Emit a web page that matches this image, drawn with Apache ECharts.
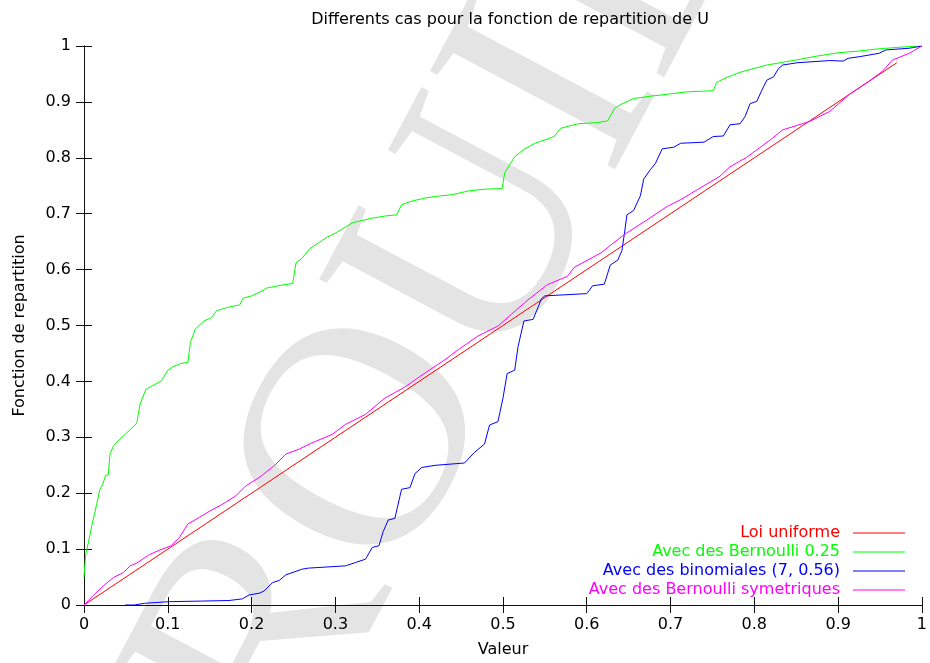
<!DOCTYPE html>
<html>
<head>
<meta charset="utf-8">
<script src="https://cdn.jsdelivr.net/npm/echarts@6/dist/echarts.min.js"></script>
<style>html,body{margin:0;padding:0;background:#fff}#c{width:930px;height:663px}</style>
</head>
<body>
<div id="c"></div>
<script>
const titleText = "Differents cas pour la fonction de repartition de U";
const xName = "Valeur";
const yName = "Fonction de repartition";
const seriesNames = ["Loi uniforme", "Avec des Bernoulli 0.25", "Avec des binomiales (7, 0.56)", "Avec des Bernoulli symetriques"];
const seriesColors = ["#ff0000", "#00ff00", "#0000ff", "#ff00ff"];
const watermarkText = "BROUILLON";

const uniformX = [0, 0.97];
const uniformY = [0, 0.97];

const bern25X = [0,0.002,0.005,0.009,0.013,0.019,0.022,0.026,0.029,0.031,0.035,0.041,0.051,0.061,0.063,0.067,0.074,0.085,0.092,0.1,0.106,0.115,0.124,0.127,0.133,0.143,0.152,0.158,0.17,0.186,0.19,0.2,0.21,0.218,0.235,0.249,0.253,0.26,0.269,0.28,0.29,0.301,0.313,0.321,0.344,0.36,0.373,0.379,0.39,0.407,0.42,0.439,0.46,0.48,0.499,0.502,0.514,0.525,0.538,0.55,0.561,0.569,0.59,0.613,0.625,0.633,0.64,0.656,0.675,0.692,0.72,0.751,0.755,0.766,0.783,0.8,0.815,0.85,0.875,0.901,0.925,0.949,0.975,1];
const bern25Y = [0.05,0.09,0.11,0.14,0.166,0.207,0.215,0.232,0.233,0.27,0.284,0.294,0.308,0.322,0.326,0.36,0.386,0.395,0.4,0.42,0.426,0.432,0.434,0.47,0.494,0.508,0.514,0.526,0.532,0.537,0.549,0.553,0.56,0.567,0.572,0.575,0.612,0.62,0.637,0.648,0.658,0.666,0.677,0.684,0.692,0.696,0.698,0.716,0.722,0.728,0.731,0.734,0.741,0.744,0.745,0.773,0.802,0.815,0.826,0.832,0.838,0.853,0.861,0.863,0.866,0.888,0.895,0.906,0.91,0.913,0.918,0.92,0.935,0.943,0.953,0.96,0.966,0.975,0.982,0.988,0.991,0.995,0.998,1];

const binomX = [0.049,0.06,0.072,0.102,0.14,0.173,0.189,0.197,0.209,0.215,0.225,0.233,0.241,0.26,0.268,0.29,0.312,0.324,0.336,0.344,0.352,0.357,0.363,0.371,0.379,0.389,0.395,0.403,0.42,0.454,0.466,0.478,0.484,0.494,0.5,0.505,0.514,0.518,0.525,0.536,0.546,0.55,0.6,0.607,0.621,0.628,0.637,0.642,0.645,0.648,0.656,0.664,0.668,0.676,0.682,0.69,0.704,0.712,0.74,0.751,0.763,0.771,0.783,0.789,0.795,0.803,0.809,0.815,0.823,0.829,0.834,0.851,0.89,0.906,0.912,0.926,0.949,0.957,0.985,1];
const binomY = [0,0,0.003,0.006,0.007,0.008,0.011,0.018,0.021,0.025,0.04,0.044,0.054,0.064,0.066,0.068,0.07,0.076,0.082,0.103,0.106,0.131,0.152,0.155,0.207,0.21,0.235,0.246,0.25,0.254,0.273,0.288,0.322,0.328,0.37,0.414,0.42,0.462,0.508,0.511,0.548,0.553,0.557,0.571,0.574,0.608,0.617,0.634,0.665,0.698,0.706,0.732,0.762,0.779,0.79,0.816,0.819,0.826,0.828,0.838,0.839,0.859,0.861,0.874,0.897,0.901,0.921,0.939,0.945,0.96,0.966,0.97,0.974,0.973,0.978,0.981,0.987,0.993,0.996,1];

const symX = [0,0.011,0.023,0.035,0.047,0.055,0.063,0.078,0.09,0.104,0.114,0.124,0.138,0.15,0.165,0.181,0.193,0.209,0.227,0.241,0.257,0.272,0.296,0.312,0.336,0.359,0.383,0.407,0.431,0.447,0.47,0.494,0.51,0.53,0.553,0.577,0.585,0.617,0.645,0.672,0.696,0.712,0.732,0.759,0.771,0.791,0.819,0.834,0.866,0.89,0.914,0.937,0.953,0.965,0.985,1];
const symY = [0,0.017,0.034,0.049,0.058,0.07,0.075,0.09,0.098,0.106,0.121,0.145,0.157,0.168,0.18,0.195,0.213,0.228,0.249,0.27,0.279,0.29,0.305,0.323,0.341,0.37,0.39,0.415,0.439,0.457,0.481,0.499,0.52,0.546,0.573,0.588,0.604,0.63,0.663,0.689,0.713,0.725,0.743,0.767,0.784,0.801,0.832,0.85,0.865,0.883,0.914,0.937,0.955,0.975,0.987,1];

const xsList = [uniformX, bern25X, binomX, symX];
const ysList = [uniformY, bern25Y, binomY, symY];

const FONT = "DejaVu Sans";
const chart = echarts.init(document.getElementById('c'), null, {renderer: 'canvas'});

const axisLine = {show: true, lineStyle: {color: '#111', width: 1}};
const tickIn = {show: true, inside: true, length: 8, lineStyle: {color: '#111', width: 1}};

const series = seriesNames.map((n, i) => ({
  name: n,
  type: 'line',
  data: xsList[i].map((x, j) => [x, ysList[i][j]]),
  showSymbol: false,
  symbol: 'none',
  lineStyle: {color: seriesColors[i], width: 1},
  itemStyle: {color: seriesColors[i]},
  z: 3 + i,
  animation: false
}));

const legendGraphics = [];
seriesNames.forEach((n, i) => {
  const y = 533 + i * 19;
  legendGraphics.push({
    type: 'text', x: 840, y: y, z: 10,
    style: {text: n, fill: seriesColors[i], font: '16px "' + FONT + '"', textAlign: 'right', textVerticalAlign: 'middle'}
  });
  legendGraphics.push({
    type: 'line', z: 10,
    shape: {x1: 853, y1: y, x2: 905, y2: y},
    style: {stroke: seriesColors[i], lineWidth: 1}
  });
});

const option = {
  animation: false,
  backgroundColor: '#ffffff',
  title: {
    text: titleText,
    left: 505, top: 7, textAlign: 'center',
    textStyle: {fontFamily: FONT, fontSize: 16, fontWeight: 'normal', color: '#000'}
  },
  grid: {left: 84, right: 4, top: 46, bottom: 57, containLabel: false},
  xAxis: [
    {type: 'value', position: 'bottom', min: 0, max: 1, interval: 0.1,
     name: xName, nameLocation: 'middle', nameGap: 37,
     nameTextStyle: {fontFamily: FONT, fontSize: 16, color: '#000'},
     axisLine: axisLine, axisTick: tickIn,
     axisLabel: {fontFamily: FONT, fontSize: 16, color: '#000', margin: 12},
     splitLine: {show: false}},
    {type: 'value', position: 'top', min: 0, max: 1, interval: 0.1,
     axisLine: axisLine, axisTick: tickIn, axisLabel: {show: false}, splitLine: {show: false}}
  ],
  yAxis: [
    {type: 'value', position: 'left', min: 0, max: 1, interval: 0.1,
     name: yName, nameLocation: 'middle', nameGap: 56, nameRotate: 90,
     nameTextStyle: {fontFamily: FONT, fontSize: 16, color: '#000'},
     axisLine: axisLine, axisTick: tickIn,
     axisLabel: {fontFamily: FONT, fontSize: 16, color: '#000', margin: 13},
     splitLine: {show: false}},
    {type: 'value', position: 'right', min: 0, max: 1, interval: 0.1,
     axisLine: axisLine, axisTick: tickIn, axisLabel: {show: false}, splitLine: {show: false}}
  ],
  series: series,
  graphic: [
    {type: 'text', x: 118, y: 925, rotation: 62 * Math.PI / 180, z: -10, silent: true,
     style: {text: watermarkText, fill: '#e4e4e4', font: '320px "Liberation Serif"', textAlign: 'left', textVerticalAlign: 'middle'}}
  ].concat(legendGraphics)
};
chart.setOption(option);
</script>
</body>
</html>
